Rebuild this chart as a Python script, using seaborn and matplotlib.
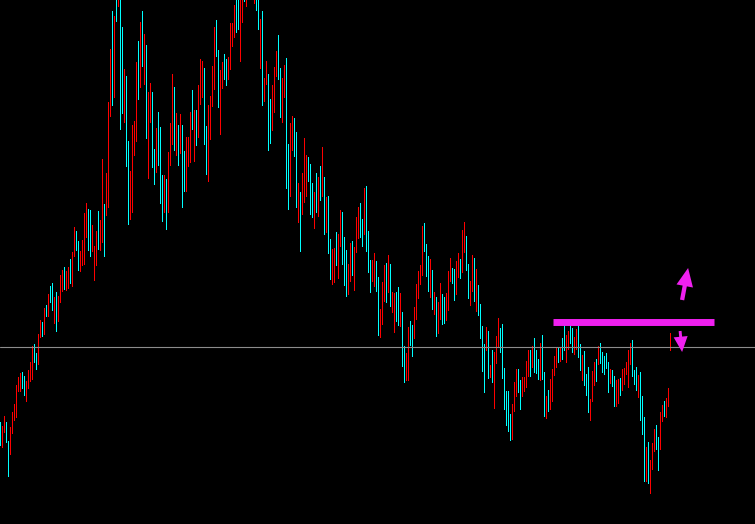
import numpy as np
import pandas as pd
import seaborn as sns
import matplotlib
matplotlib.use("Agg")
import matplotlib.pyplot as plt

# bar highs / lows (price units), one bar per period
highs = [
    102, 98, 108, 102, 83, 97, 112, 120, 139, 147, 151, 152, 148, 143, 154, 162, 178, 180, 171, 190,
    204, 202, 216, 219, 230, 238, 241, 227, 232, 228, 249, 254, 257, 253, 257, 265, 272, 297, 293, 283,
    273, 284, 311, 321, 315, 314, 299, 278, 293, 313, 304, 365, 320, 351, 422, 475, 513, 508, 532, 539,
    529, 497, 455, 448, 383, 353, 399, 403, 462, 483, 502, 513, 490, 479, 432, 441, 432, 375, 396, 412,
    397, 349, 349, 345, 372, 401, 450, 437, 411, 399, 410, 399, 373, 387, 387, 412, 434, 414, 414, 439,
    465, 463, 456, 398, 419, 428, 458, 497, 504, 474, 454, 462, 470, 465, 467, 501, 501, 519, 529, 532,
    527, 534, 539, 536, 549, 546, 544, 539, 536, 529, 505, 513, 446, 463, 450, 425, 439, 457, 473, 489,
    456, 446, 459, 466, 380, 401, 408, 406, 392, 341, 332, 351, 386, 369, 367, 360, 341, 332, 351, 347,
    358, 377, 347, 327, 328, 285, 275, 276, 292, 290, 314, 312, 287, 274, 260, 281, 283, 277, 307, 317,
    321, 305, 336, 338, 293, 264, 264, 271, 263, 247, 215, 242, 259, 261, 269, 260, 232, 231, 232, 237,
    231, 212, 178, 171, 197, 203, 199, 217, 240, 253, 259, 298, 301, 280, 268, 265, 254, 232, 227, 222,
    241, 230, 227, 231, 253, 266, 256, 255, 263, 271, 265, 294, 302, 288, 260, 243, 269, 266, 255, 239,
    220, 198, 180, 197, 193, 159, 174, 172, 188, 206, 196, 200, 156, 133, 133, 110, 120, 142, 155, 155,
    144, 147, 147, 163, 174, 174, 178, 186, 174, 165, 181, 189, 152, 128, 134, 145, 155, 168, 176, 177,
    177, 186, 199, 189, 193, 199, 196, 187, 195, 198, 180, 169, 173, 150, 157, 125, 153, 162, 165, 178,
    181, 172, 168, 171, 162, 155, 154, 148, 144, 145, 146, 155, 156, 162, 174, 181, 184, 154, 157, 149,
    152, 128, 107, 77, 82, 64, 81, 95, 99, 87, 112, 119, 123, 126, 136, 191,
]
lows = [
    78, 76, 91, 81, 47, 69, 90, 103, 106, 132, 132, 135, 128, 122, 135, 142, 144, 161, 154, 159,
    186, 187, 189, 207, 207, 221, 213, 200, 192, 202, 221, 232, 234, 233, 235, 240, 237, 267, 273, 253,
    252, 258, 259, 286, 273, 267, 272, 243, 258, 274, 273, 281, 267, 308, 316, 407, 418, 426, 502, 517,
    394, 410, 401, 357, 299, 304, 311, 368, 382, 424, 436, 457, 439, 385, 345, 401, 356, 339, 351, 358,
    320, 302, 311, 294, 311, 358, 379, 373, 368, 358, 370, 316, 332, 332, 357, 361, 394, 362, 378, 386,
    419, 426, 379, 349, 342, 384, 417, 434, 467, 416, 389, 435, 444, 438, 444, 454, 477, 486, 491, 494,
    462, 501, 522, 517, 529, 527, 526, 520, 513, 494, 455, 418, 422, 439, 373, 380, 393, 411, 447, 444,
    406, 401, 426, 335, 314, 327, 373, 367, 316, 301, 272, 309, 321, 327, 342, 309, 306, 295, 311, 307,
    323, 327, 289, 291, 270, 244, 239, 241, 258, 245, 277, 259, 238, 227, 229, 242, 248, 233, 271, 285,
    286, 277, 289, 272, 251, 231, 242, 237, 232, 188, 186, 199, 222, 221, 231, 217, 211, 191, 202, 198,
    197, 157, 141, 143, 143, 178, 167, 185, 204, 225, 239, 248, 272, 247, 232, 226, 214, 209, 187, 190,
    204, 199, 200, 203, 213, 242, 240, 223, 229, 246, 245, 251, 271, 253, 225, 218, 232, 222, 212, 208,
    185, 152, 131, 173, 145, 146, 141, 115, 160, 176, 171, 145, 114, 98, 92, 83, 84, 112, 127, 131,
    114, 127, 132, 136, 147, 147, 156, 151, 150, 144, 143, 144, 107, 105, 112, 114, 122, 148, 156, 161,
    162, 164, 173, 161, 174, 180, 171, 169, 174, 166, 153, 143, 138, 128, 111, 103, 122, 138, 142, 159,
    160, 151, 149, 155, 131, 140, 137, 117, 117, 120, 128, 133, 139, 149, 136, 159, 147, 139, 133, 126,
    103, 89, 42, 42, 40, 30, 54, 72, 74, 53, 74, 102, 107, 106, 117, 173,
]
# R = up bar (red), C = down bar (cyan)
direction = (
    "CRRCCR" "RRRRRC" "CRRRRC" "CRRCRC" "RCCRCR" "RRCRRC" "RRCCRR" "RRCCRR"
    "RCRRCR" "RRCRCR" "CCRCCR" "RRRCRC" "RCRRCC" "RCCCRC" "RRRCRC" "RCCRRR"
    "CRCRRR" "CCRRRR" "CCRRCC" "RRRRCC" "RRCRCR" "CRCCRC" "RRCCRR" "RCCRRC"
    "CRRCCR" "CRRRCC" "CRCRCR" "CRCCRR" "CRRCCC" "RRCRRR" "CCRCCC" "RRCCRR"
    "RCRCRR" "CCRCCR" "RCCRRR" "RRCCCR" "CRCRRC" "CRRRCC" "RRCRRC" "CRRCRC"
    "CCCRCR" "CRRRCC" "CCCCRR" "RCCRRR" "RCRCCC" "RCCRCR" "RRRCRC" "CRRCCR"
    "RCCRCC" "CRRRCR" "CCCCCR" "CCRRCR" "RRRRCC" "CRCCCR" "CRRRCC" "RRCRRR"
)

ref_level = 177          # thin grey horizontal line
zone_level = 202         # magenta level
zone_start, zone_end = 276.25, 356.75

df = pd.DataFrame({"bar": np.arange(len(highs)), "high": highs, "low": lows,
                   "dir": list(direction)})
df["range"] = df["high"] - df["low"]
palette = {"R": "#ff0000", "C": "#00ffff"}

sns.set_theme(style="dark", rc={"axes.facecolor": "black", "figure.facecolor": "black"})

fig = plt.figure(figsize=(7.55, 5.24), dpi=100)
ax = fig.add_axes([0, 0, 1, 1])
ax.set_facecolor("black")

# each bar is a 1 px wide column from low to high
for d, grp in df.groupby("dir"):
    ax.bar(grp["bar"], grp["range"], bottom=grp["low"], width=0.5,
           color=palette[d], linewidth=0, antialiased=False)

ax.axhline(ref_level, color="#8c8c8c", linewidth=0.8)
ax.hlines(zone_level, zone_start, zone_end, colors="#f020f0", linewidth=5.0)

magenta = "#f020f0"
ax.annotate("", xy=(343.8, 256), xytext=(340.8, 224),
            arrowprops=dict(arrowstyle="simple,head_length=0.94,head_width=0.86,tail_width=0.22",
                            mutation_scale=14, color=magenta, shrinkA=0, shrinkB=0, lw=0))
ax.annotate("", xy=(340.8, 172), xytext=(339.8, 193),
            arrowprops=dict(arrowstyle="simple,head_length=0.79,head_width=0.72,tail_width=0.15",
                            mutation_scale=14, color=magenta, shrinkA=0, shrinkB=0, lw=0))

ax.set_xlim(-0.25, 377.25)
ax.set_ylim(0, 524)
ax.set_axis_off()

fig.savefig("out.png", dpi=100, facecolor="black")
